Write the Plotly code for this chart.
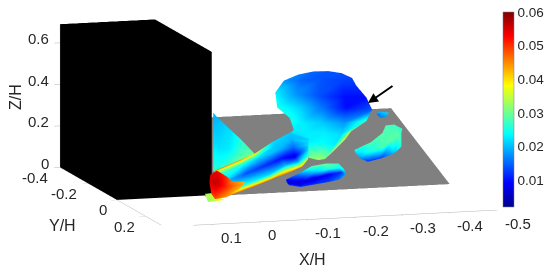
#!/usr/bin/env python3

"""Iso-surface of a bluff-body wake, with a black building block on a grey floor."""

import plotly.graph_objects as go

FONT = "Liberation Sans"
TEXT = "#262626"
AXIS = "#b4b4b4"

# axis ticks
x_ticks = [-0.5, -0.4, -0.3, -0.2, -0.1, 0, 0.1]
x_labels = ["-0.5", "-0.4", "-0.3", "-0.2", "-0.1", "0", "0.1"]
y_ticks = [-0.4, -0.2, 0, 0.2]
y_labels = ["-0.4", "-0.2", "0", "0.2"]
z_ticks = [0, 0.2, 0.4, 0.6]
z_labels = ["0", "0.2", "0.4", "0.6"]
c_ticks = [0.01, 0.02, 0.03, 0.04, 0.05, 0.06]
c_labels = ["0.01", "0.02", "0.03", "0.04", "0.05", "0.06"]

# MATLAB jet
jet = [
    [0, "rgb(0,0,143)"], [0.125, "rgb(0,0,255)"], [0.375, "rgb(0,255,255)"],
    [0.625, "rgb(255,255,0)"], [0.875, "rgb(255,0,0)"], [1, "rgb(128,0,0)"],
]

# building block and floor
box_x = [0, 0.2, 0.2, 0, 0, 0.2, 0.2, 0]
box_y = [-0.4, -0.4, 0, 0, -0.4, -0.4, 0, 0]
box_z = [0, 0, 0, 0, 0.69, 0.69, 0.69, 0.69]
floor_x = [-0.102, -0.498, -0.499, 0.017]
floor_y = [-0.4, -0.4, 0.01, 0.01]
floor_z = [0.205, 0.206, 0.0, 0.0]

# upper part of the surface
blob_y = 0.03
blob_x = [
    [-0.174, -0.206, -0.237, -0.265, -0.287],
    [-0.143, -0.181, -0.223, -0.265, -0.296],
    [-0.125, -0.168, -0.216, -0.272, -0.317],
    [-0.129, -0.174, -0.223, -0.275, -0.329],
    [-0.155, -0.181, -0.223, -0.272, -0.317],
    [-0.164, -0.195, -0.230, -0.265, -0.285],
    [-0.154, -0.188, -0.223, -0.251, -0.272],
    [-0.178, -0.199, -0.216, -0.230, -0.247],
]
blob_z = [
    [0.573, 0.584, 0.582, 0.569, 0.543],
    [0.547, 0.543, 0.546, 0.530, 0.505],
    [0.492, 0.479, 0.465, 0.451, 0.446],
    [0.419, 0.405, 0.408, 0.402, 0.387],
    [0.367, 0.339, 0.335, 0.329, 0.332],
    [0.309, 0.289, 0.285, 0.273, 0.287],
    [0.286, 0.249, 0.237, 0.226, 0.248],
    [0.185, 0.167, 0.156, 0.160, 0.194],
]
blob_c = [
    [0.016, 0.015, 0.014, 0.014, 0.013],
    [0.018, 0.015, 0.014, 0.013, 0.012],
    [0.023, 0.018, 0.014, 0.010, 0.010],
    [0.025, 0.022, 0.016, 0.010, 0.014],
    [0.025, 0.023, 0.021, 0.018, 0.027],
    [0.023, 0.023, 0.023, 0.022, 0.034],
    [0.022, 0.023, 0.024, 0.023, 0.037],
    [0.027, 0.031, 0.033, 0.031, 0.037],
]

# stem running from the block towards the upper part
stem_y = 0.05
stem_x = [
    [0.010, 0.008, 0.006, -0.005, -0.015, -0.017, -0.019],
    [-0.044, -0.046, -0.049, -0.058, -0.067, -0.069, -0.072],
    [-0.075, -0.078, -0.081, -0.094, -0.107, -0.110, -0.113],
    [-0.113, -0.117, -0.121, -0.133, -0.140, -0.144, -0.148],
    [-0.151, -0.153, -0.156, -0.160, -0.167, -0.172, -0.176],
    [-0.189, -0.189, -0.189, -0.189, -0.189, -0.189, -0.188],
]
stem_z = [
    [0.137, 0.129, 0.116, 0.074, 0.033, 0.023, 0.012],
    [0.183, 0.173, 0.161, 0.118, 0.073, 0.061, 0.051],
    [0.210, 0.202, 0.188, 0.148, 0.106, 0.092, 0.084],
    [0.263, 0.244, 0.219, 0.182, 0.146, 0.127, 0.112],
    [0.305, 0.274, 0.236, 0.187, 0.159, 0.145, 0.137],
    [0.270, 0.254, 0.237, 0.216, 0.192, 0.181, 0.172],
]
stem_c = [
    [0.048, 0.034, 0.028, 0.022, 0.028, 0.037, 0.047],
    [0.046, 0.034, 0.025, 0.014, 0.024, 0.036, 0.047],
    [0.040, 0.030, 0.022, 0.012, 0.022, 0.035, 0.047],
    [0.022, 0.021, 0.020, 0.010, 0.020, 0.034, 0.045],
    [0.021, 0.020, 0.016, 0.008, 0.020, 0.033, 0.044],
    [0.021, 0.022, 0.022, 0.022, 0.025, 0.030, 0.036],
]

# hot spot at the foot of the block
tip_y = 0.11
tip_x = [
    [0.036, 0.038, 0.034],
    [0.022, 0.022, 0.026],
    [0.001, 0.001, 0.001],
    [-0.010, -0.012, -0.014],
    [-0.037, -0.033, -0.026],
]
tip_z = [
    [0.146, 0.112, 0.053],
    [0.164, 0.100, 0.027],
    [0.132, 0.083, 0.034],
    [0.106, 0.086, 0.057],
    [0.103, 0.089, 0.070],
]
tip_c = [
    [0.054, 0.055, 0.050],
    [0.054, 0.056, 0.048],
    [0.050, 0.050, 0.044],
    [0.046, 0.047, 0.043],
    [0.042, 0.043, 0.041],
]

flap_y = 0.09
flap_x = [[0.041, 0.024], [0.035, 0.001]]
flap_z = [[0.046, 0.049], [0.006, 0.012]]
flap_c = [[0.033, 0.036], [0.032, 0.038]]

# sheet behind the stem, right of the block
sheet_y = 0.03
sheet_x = [
    [0.006, 0.006, 0.006],
    [-0.004, -0.004, -0.004],
    [-0.029, -0.029, -0.029],
    [-0.050, -0.050, -0.050],
    [-0.081, -0.081, -0.081],
]
sheet_z = [
    [0.409, 0.272, 0.126],
    [0.383, 0.246, 0.134],
    [0.326, 0.229, 0.146],
    [0.280, 0.214, 0.168],
    [0.203, 0.194, 0.179],
]
sheet_c = [
    [0.019, 0.022, 0.027],
    [0.020, 0.022, 0.026],
    [0.022, 0.023, 0.028],
    [0.025, 0.027, 0.030],
    [0.030, 0.031, 0.031],
]

# islands on the floor
island_y = 0.03
mid_x = [
    [-0.147, -0.148, -0.150, -0.154],
    [-0.174, -0.176, -0.177, -0.178],
    [-0.202, -0.206, -0.206, -0.206],
    [-0.233, -0.237, -0.237, -0.237],
    [-0.258, -0.261, -0.263, -0.258],
    [-0.270, -0.272, -0.272, -0.269],
]
mid_z = [
    [0.070, 0.064, 0.054, 0.042],
    [0.096, 0.075, 0.051, 0.031],
    [0.129, 0.098, 0.068, 0.039],
    [0.138, 0.113, 0.084, 0.048],
    [0.135, 0.114, 0.091, 0.056],
    [0.106, 0.096, 0.080, 0.067],
]
mid_c = [
    [0.012, 0.009, 0.007, 0.012],
    [0.018, 0.012, 0.006, 0.012],
    [0.029, 0.020, 0.007, 0.012],
    [0.030, 0.026, 0.009, 0.013],
    [0.027, 0.025, 0.012, 0.016],
    [0.024, 0.022, 0.018, 0.020],
]
right_x = [
    [-0.292, -0.294, -0.303],
    [-0.327, -0.324, -0.320],
    [-0.351, -0.353, -0.348],
    [-0.358, -0.372, -0.376],
    [-0.376, -0.383, -0.391],
    [-0.393, -0.391, -0.390],
]
right_z = [
    [0.196, 0.183, 0.155],
    [0.230, 0.185, 0.136],
    [0.271, 0.205, 0.149],
    [0.307, 0.236, 0.170],
    [0.309, 0.259, 0.201],
    [0.287, 0.266, 0.242],
]
right_c = [
    [0.026, 0.022, 0.018],
    [0.028, 0.025, 0.012],
    [0.029, 0.028, 0.013],
    [0.028, 0.029, 0.020],
    [0.027, 0.029, 0.026],
    [0.026, 0.027, 0.027],
]
small_x = [[-0.336, -0.341], [-0.351, -0.348], [-0.365, -0.358]]
small_z = [[0.370, 0.357], [0.373, 0.344], [0.367, 0.346]]
small_c = [[0.019, 0.015], [0.021, 0.016], [0.022, 0.018]]

FLAT = dict(ambient=1, diffuse=0, specular=0, roughness=1, fresnel=0)


def patch(xs, zs, cs, y0):
    """One lattice of points, all on the plane y = y0, as a mesh coloured by value."""
    rows, cols = len(xs), len(xs[0])
    i, j, k = [], [], []
    for r in range(rows - 1):
        for c in range(cols - 1):
            a = r * cols + c
            b = a + 1
            d = a + cols
            e = d + 1
            i += [a, b]
            j += [b, e]
            k += [d, d]
    flat = lambda m: [v for row in m for v in row]
    return go.Mesh3d(
        x=flat(xs), y=[y0] * (rows * cols), z=flat(zs), i=i, j=j, k=k,
        intensity=flat(cs), coloraxis="coloraxis", lighting=FLAT, hoverinfo="skip",
    )


fig = go.Figure()
fig.add_trace(go.Mesh3d(
    x=box_x, y=box_y, z=box_z, color="black", lighting=FLAT, hoverinfo="skip",
    i=[0, 0, 4, 4, 0, 0, 1, 1, 2, 2, 3, 3],
    j=[1, 2, 5, 6, 1, 5, 2, 6, 3, 7, 0, 4],
    k=[2, 3, 6, 7, 5, 4, 6, 5, 7, 6, 4, 7],
))
fig.add_trace(go.Mesh3d(
    x=floor_x, y=floor_y, z=floor_z, i=[0, 0], j=[1, 2], k=[2, 3],
    color="#808080", lighting=FLAT, hoverinfo="skip",
))
fig.add_trace(patch(blob_x, blob_z, blob_c, blob_y))
fig.add_trace(patch(sheet_x, sheet_z, sheet_c, sheet_y))
fig.add_trace(patch(stem_x, stem_z, stem_c, stem_y))
fig.add_trace(patch(flap_x, flap_z, flap_c, flap_y))
fig.add_trace(patch(tip_x, tip_z, tip_c, tip_y))
fig.add_trace(patch(mid_x, mid_z, mid_c, island_y))
fig.add_trace(patch(right_x, right_z, right_c, island_y))
fig.add_trace(patch(small_x, small_z, small_c, island_y))


def axis(ticks, low, high):
    return dict(
        range=[low, high], tickmode="array", tickvals=ticks, showticklabels=False,
        ticks="outside", ticklen=6, tickcolor=AXIS, tickwidth=1,
        showgrid=False, zeroline=False, showbackground=False, showspikes=False,
        showline=True, linecolor=AXIS, linewidth=1, title=dict(text=""),
    )


def tick_label(x, y, z, text, dx, dy):
    # labels sit off the axis by a fixed pixel offset, as in the MATLAB original
    return dict(
        x=x, y=y, z=z, text=text, showarrow=False, xanchor="center", yanchor="middle",
        xshift=dx, yshift=-dy, font=dict(family=FONT, size=15, color=TEXT),
    )


tick_text = []
for v, s in zip(x_ticks, x_labels):
    tick_text.append(tick_label(v, 0.33, 0, s, 13 if v == 0 else 20 if v > 0 else 22, 13))
for v, s in zip(y_ticks, y_labels):
    tick_text.append(tick_label(0.2, v, 0, s, -14 if v == 0 else -21 if v > 0 else -25, 10))
for v, s in zip(z_ticks, z_labels):
    tick_text.append(tick_label(0.2, -0.4, v, s, -15 if v == 0 else -22, -4))


def title(x, y, text, angle=0):
    return dict(
        x=x / 550, y=1 - y / 273, xref="paper", yref="paper", text=text, showarrow=False,
        xanchor="center", yanchor="middle", textangle=angle,
        font=dict(family=FONT, size=16, color=TEXT),
    )


fig.update_layout(
    width=550, height=273, margin=dict(l=0, r=0, t=0, b=0),
    paper_bgcolor="white", showlegend=False,
    font=dict(family=FONT, color=TEXT),
    scene=dict(
        domain=dict(x=[0, 1], y=[0, 1]),
        xaxis=axis(x_ticks, -0.5, 0.2),
        yaxis=axis(y_ticks, -0.4, 0.33),
        zaxis=axis(z_ticks, 0, 0.69),
        aspectmode="manual",
        aspectratio=dict(x=2.535, y=2.68, z=1.065),
        camera=dict(
            eye=dict(x=0.4406, y=1.414, z=0.11),
            center=dict(x=0.0206, y=-0.006, z=-0.144),
            up=dict(x=0, y=0, z=1),
            projection=dict(type="orthographic"),
        ),
        annotations=tick_text,
    ),
    coloraxis=dict(
        cmin=0.002, cmax=0.06, colorscale=jet,
        colorbar=dict(
            x=503 / 550, xanchor="left", xpad=0, y=1 - 109.5 / 273, yanchor="middle", ypad=0,
            lenmode="pixels", len=195, thicknessmode="pixels", thickness=10.5,
            tickmode="array", tickvals=c_ticks, ticktext=c_labels, ticks="",
            tickfont=dict(family=FONT, size=13.5, color=TEXT),
            outlinewidth=0.5, outlinecolor="#808080",
        ),
    ),
    annotations=[
        title(312, 259, "X/H"),
        title(62, 225, "Y/H"),
        title(15, 97, "Z/H", -90),
        # arrow pointing at the upper part of the surface
        dict(x=368 / 550, y=1 - 103 / 273, xref="paper", yref="paper", text="", showarrow=True,
             ax=26, ay=-18, arrowhead=2, arrowsize=1, arrowwidth=2, arrowcolor="black"),
    ],
)

fig.write_html("out.html", config=dict(displayModeBar=False),
               post_script="document.body.style.margin='0';")
